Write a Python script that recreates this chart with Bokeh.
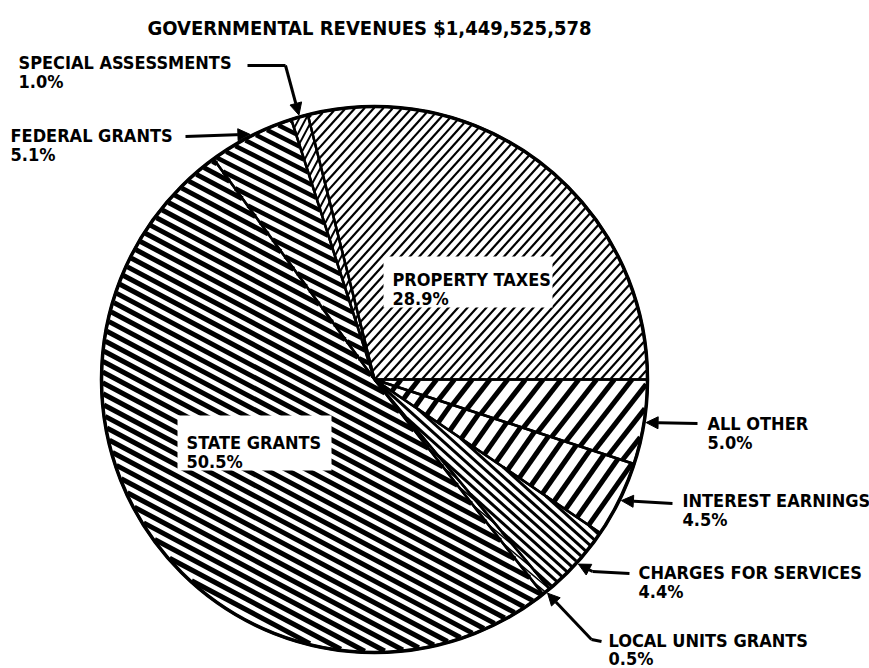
import numpy as np
from bokeh.plotting import figure
from bokeh.models import Range1d, Arrow, NormalHead, ColumnDataSource
from bokeh.embed import file_html
from bokeh.resources import INLINE
from bokeh.core.properties import value

# ---------------- data ----------------
title_text = "GOVERNMENTAL REVENUES $1,449,525,578"
categories = ["PROPERTY TAXES", "SPECIAL ASSESSMENTS", "FEDERAL GRANTS", "STATE GRANTS",
              "LOCAL UNITS GRANTS", "CHARGES FOR SERVICES", "INTEREST EARNINGS", "ALL OTHER"]
percents = [28.9, 1.0, 5.1, 50.5, 0.5, 4.4, 4.5, 5.0]
pct_labels = ["28.9%", "1.0%", "5.1%", "50.5%", "0.5%", "4.4%", "4.5%", "5.0%"]

# ---------------- styles ----------------
hatch_angle = [48, 62, -27, -28, -40, -42, 55, 52]
hatch_gap = [7.0, 6.0, 9.5, 9.5, 5.0, 7.0, 14.0, 14.0]
hatch_width = [2.2, 2.0, 4.5, 5.0, 1.5, 3.0, 5.0, 5.0]

W, H = 869, 668
def Y(iy):
    return H - iy

cx, cy, R = 374.0, Y(379), 273.0

lab_x = [392, 18, 10, 186, 608, 638, 682, 707]
lab_base = [279, 62, 135, 442, 640, 572, 500, 423]
line_step = [19, 19, 19, 19, 18, 19, 19, 19]
leaders = [None,
           [(247, 65), (285, 65)],
           [(185, 136)],
           None,
           [(601, 641), (591, 639)],
           [(629, 573), (592, 571)],
           [(672, 503)],
           [(697, 423)]]

total = sum(percents)
frac = np.array(percents) / total
ends = 2 * np.pi * np.cumsum(frac)
starts = ends - 2 * np.pi * frac
mids = (starts + ends) / 2

p = figure(width=W, height=H, x_range=Range1d(0, W), y_range=Range1d(0, H),
           output_backend="svg", toolbar_location=None, min_border=0,
           x_axis_type=None, y_axis_type=None)
p.grid.visible = False
p.outline_line_color = None
p.background_fill_color = "white"

src = ColumnDataSource(dict(start=starts, end=ends, cat=categories))
p.wedge(x=cx, y=cy, radius=R, start_angle="start", end_angle="end",
        fill_color="white", line_color=None, source=src)

def hatch_segments(a0, a1, ang_deg, gap):
    th = np.radians(ang_deg)
    d = np.array([np.cos(th), np.sin(th)])
    n = np.array([-np.sin(th), np.cos(th)])
    t = np.arange(-R - 4, R + 4, 0.5)
    span = a1 - a0
    segs = []
    for o in np.arange(-R - gap, R + gap, gap):
        px = cx + o * n[0] + t * d[0]
        py = cy + o * n[1] + t * d[1]
        rr = np.hypot(px - cx, py - cy)
        ang = np.mod(np.arctan2(py - cy, px - cx) - a0, 2 * np.pi)
        inside = (rr <= R - 1) & (ang <= span)
        edges = np.flatnonzero(np.diff(np.concatenate([[0], inside.astype(int), [0]])))
        for s, e in zip(edges[::2], edges[1::2] - 1):
            if e > s:
                segs.append(([px[s], px[e]], [py[s], py[e]]))
    return segs

hx, hy, hw = [], [], []
for i in range(len(categories)):
    for sx, sy in hatch_segments(starts[i], ends[i], hatch_angle[i], hatch_gap[i]):
        hx.append(sx); hy.append(sy); hw.append(hatch_width[i])
p.multi_line(xs="xs", ys="ys", line_width="w", line_color="black", line_cap="butt",
             source=ColumnDataSource(dict(xs=hx, ys=hy, w=hw)))

box_l = [383, 177]
box_r = [552, 331]
box_t = [256, 415]
box_b = [307, 470]
p.quad(left=box_l, right=box_r, top=[Y(v) for v in box_t], bottom=[Y(v) for v in box_b],
       fill_color="white", line_color=None)

p.wedge(x=cx, y=cy, radius=R, start_angle="start", end_angle="end",
        fill_color=None, line_color="black", line_width=2.5, source=src)
p.circle(x=[cx], y=[cy], radius=R, fill_color=None, line_color="black", line_width=3.5)

font = value("DejaVu Sans Condensed")
p.text(x=[369], y=[Y(27)], text=[title_text], text_font=font, text_font_style="bold",
       text_font_size="20px", text_align="center", text_baseline="alphabetic", text_color="black")
p.text(x=lab_x, y=[Y(b) for b in lab_base], text=categories, text_font=font,
       text_font_style="bold", text_font_size="18px", text_baseline="alphabetic", text_color="black")
p.text(x=lab_x, y=[Y(b + s) for b, s in zip(lab_base, line_step)], text=pct_labels, text_font=font,
       text_font_style="bold", text_font_size="18px", text_baseline="alphabetic", text_color="black")

for i, path in enumerate(leaders):
    if path is None:
        continue
    tip = (cx + (R + 2) * np.cos(mids[i]), cy + (R + 2) * np.sin(mids[i]))
    if len(path) > 1:
        p.line(x=[q[0] for q in path], y=[Y(q[1]) for q in path], line_color="black",
               line_width=3, line_join="miter")
    last = path[-1]
    p.add_layout(Arrow(x_start=last[0], y_start=Y(last[1]), x_end=tip[0], y_end=tip[1],
                       line_width=3, line_color="black",
                       end=NormalHead(size=12, fill_color="black", line_color="black", line_width=1)))

open("out.html", "w").write(file_html(p, INLINE))
